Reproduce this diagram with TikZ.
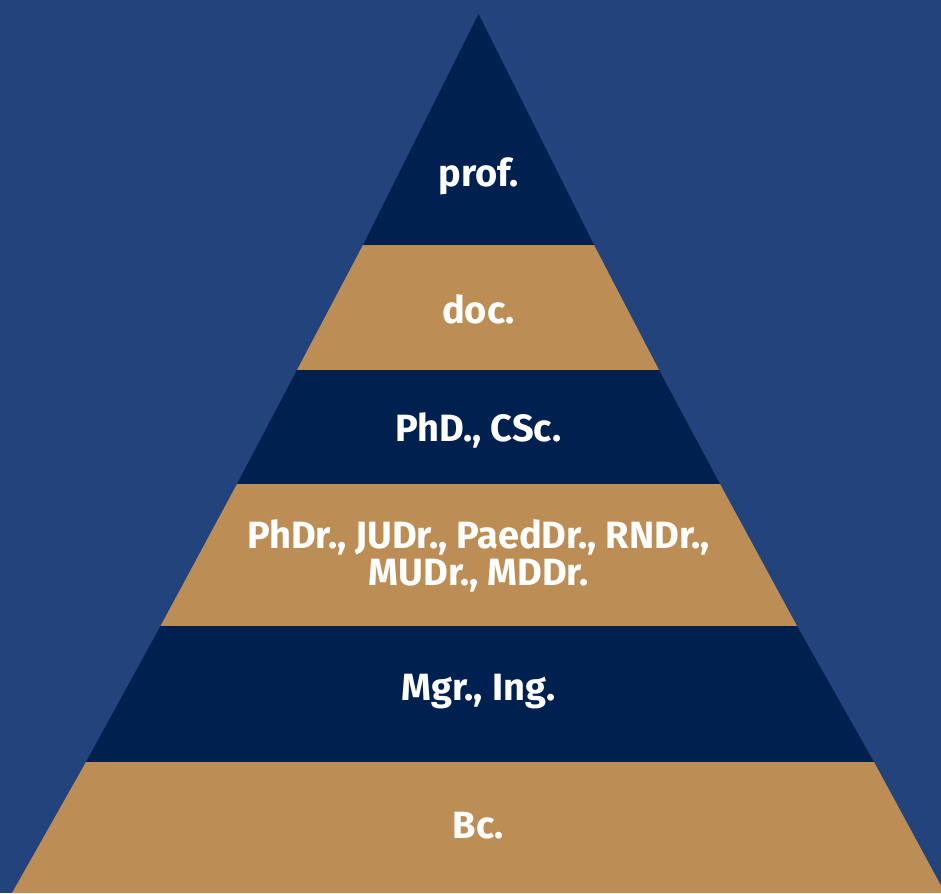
\documentclass[tikz,border=0pt]{standalone}
\usepackage{fontspec}
\setmainfont{Fira Sans}
\definecolor{bgblue}{HTML}{22437C}
\definecolor{navy}{HTML}{002150}
\definecolor{gold}{HTML}{BC8E55}

\begin{document}
\begin{tikzpicture}[x=0.5pt, y=-0.5pt,
    tier/.style={fill=#1},
    tiertext/.style={text=white, font=\bfseries\fontsize{19}{18.5}\selectfont, align=center, inner sep=0pt}]

    \useasboundingbox (0,0) rectangle (941,893);
    \clip (0,0) rectangle (941,893);
    \fill[bgblue] (0,0) rectangle (941,893);

    % tiers, top to bottom
    \fill[tier=navy] (478.5,14) -- (594,245) -- (363,245) -- cycle;
    \fill[tier=gold] (363,245) -- (594,245) -- (659,370) -- (297,370) -- cycle;
    \fill[tier=navy] (297,370) -- (659,370) -- (720,484) -- (237,484) -- cycle;
    \fill[tier=gold] (237,484) -- (720,484) -- (797,626) -- (160.5,626) -- cycle;
    \fill[tier=navy] (160.5,626) -- (797,626) -- (874,762) -- (86,762) -- cycle;
    \fill[tier=gold] (86,762) -- (874,762) -- (945,893) -- (12,893) -- cycle;

    \node[tiertext] (prof) at (478.5,176) {prof.};
    \node[tiertext] (doc) at (478.5,309) {doc.};
    \node[tiertext] (phd) at (478.5,430) {PhD., CSc.};
    \node[tiertext] (rigo) at (478.5,556) {PhDr., JUDr., PaedDr., RNDr.,\\MUDr., MDDr.};
    \node[tiertext] (mgr) at (478.5,692) {Mgr., Ing.};
    \node[tiertext] (bc) at (478.5,826) {Bc.};
\end{tikzpicture}
\end{document}
